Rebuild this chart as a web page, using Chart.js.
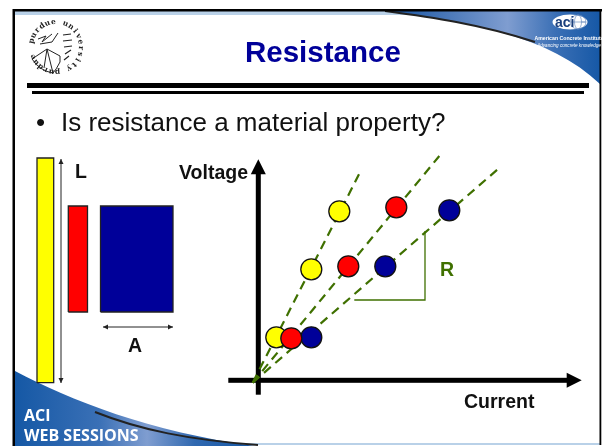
<!DOCTYPE html>
<html>
<head>
<meta charset="utf-8">
<title>Resistance</title>
<script src="https://cdn.jsdelivr.net/npm/chart.js@4/dist/chart.umd.min.js"></script>
<style>
html, body { margin: 0; padding: 0; background: #fff; }
canvas { display: block; }
</style>
</head>
<body>
<canvas id="myChart" width="604" height="446"></canvas>
<script>
var yellowCurrent = [81, 53, 18];
var yellowVoltage = [169, 111, 43];
var redCurrent = [138, 90, 33];
var redVoltage = [173, 114, 42];
var blueCurrent = [191, 127, 53];
var blueVoltage = [170, 114, 43];

// dashed fit lines: start and end of each
var yellowFitCurrent = [-5.6, 100.7];
var yellowFitVoltage = [-2.4, 206];
var redFitCurrent = [-5.6, 181];
var redFitVoltage = [-2.4, 224.3];
var blueFitCurrent = [-5.6, 239.4];
var blueFitVoltage = [-2.4, 211];

// slope triangle
var slopeCurrent = [96, 166.7, 166.7];
var slopeVoltage = [80.3, 80.3, 149.3];

// specimens left of the axes: [left, right] and [bottom, top]
var yellowBarX = [-221.3, -204.6];
var yellowBarY = [-2.4, 222.3];
var redBarX = [-190, -170.8];
var redBarY = [68.3, 174.3];
var blueBarX = [-157.8, -85.3];
var blueBarY = [68.3, 174.3];

function pts(xs, ys) {
    return xs.map(function (x, i) { return { x: x, y: ys[i] }; });
}
function box(xs, ys) {
    return pts([xs[0], xs[1], xs[1], xs[0], xs[0]], [ys[0], ys[0], ys[1], ys[1], ys[0]]);
}
function fitLine(xs, ys, order) {
    return { data: pts(xs, ys), showLine: true, pointRadius: 0, borderColor: '#3f7000', borderWidth: 2.2, borderDash: [9, 6], order: order };
}
function dots(xs, ys, color, order) {
    return { data: pts(xs, ys), showLine: false, pointRadius: 10.5, pointBorderWidth: 1.3, pointBorderColor: '#111', pointBackgroundColor: color, order: order };
}
function bar(xs, ys, color) {
    return { data: box(xs, ys), showLine: true, fill: 'shape', backgroundColor: color, borderColor: '#222', borderWidth: 1.3, pointRadius: 0, tension: 0, order: 9 };
}

function arrow(ctx, x, y, dx, dy, len, half) {
    ctx.beginPath();
    ctx.moveTo(x, y);
    ctx.lineTo(x - dx * len - dy * half, y - dy * len - dx * half);
    ctx.lineTo(x - dx * len + dy * half, y - dy * len + dx * half);
    ctx.closePath();
    ctx.fill();
}

function drawLogo(ctx) {
    var cx = 56, cy = 47, word = 'purdue university purdue';
    ctx.save();
    ctx.strokeStyle = '#222';
    ctx.fillStyle = '#222';
    ctx.font = 'bold 7.5px "DejaVu Serif"';
    ctx.textAlign = 'center';
    ctx.textBaseline = 'middle';
    for (var i = 0; i < word.length; i++) {
        var a = -2.9 + i * 0.245;
        ctx.save();
        ctx.translate(cx + Math.cos(a) * 25, cy + Math.sin(a) * 25);
        ctx.rotate(a + Math.PI / 2);
        ctx.fillText(word[i], 0, 0);
        ctx.restore();
    }
    ctx.lineWidth = 1;
    ctx.beginPath();
    ctx.moveTo(32, 59); ctx.lineTo(47, 49); ctx.lineTo(60, 56); ctx.lineTo(60, 62);
    ctx.quadraticCurveTo(56, 70, 53, 73); ctx.quadraticCurveTo(40, 71, 32, 59);
    ctx.moveTo(47, 49); ctx.lineTo(44, 68);
    ctx.moveTo(47, 49); ctx.lineTo(53, 73);
    ctx.moveTo(38, 39); ctx.lineTo(46, 36); ctx.lineTo(42, 42); ctx.lineTo(52, 34);
    ctx.moveTo(40, 44); ctx.lineTo(52, 42); ctx.lineTo(58, 33);
    ctx.stroke();
    ctx.lineWidth = 1.2;
    ctx.beginPath();
    ctx.moveTo(63, 35); ctx.lineTo(71, 34);
    ctx.moveTo(63, 41); ctx.lineTo(72, 40);
    ctx.moveTo(64, 47); ctx.lineTo(72, 46);
    ctx.moveTo(65, 54); ctx.lineTo(71, 50);
    ctx.moveTo(64, 60); ctx.lineTo(69, 56);
    ctx.stroke();
    ctx.restore();
}

var slidePlugin = {
    id: 'slide',
    beforeDatasetsDraw: function (chart) {
        var ctx = chart.ctx;
        var sx = chart.scales.x, sy = chart.scales.y;
        var ox = sx.getPixelForValue(0), oy = sy.getPixelForValue(0);
        ctx.save();
        ctx.fillStyle = '#fff';
        ctx.fillRect(0, 0, 604, 446);

        // pale band under the frame top and on the bottom edge
        ctx.fillStyle = '#b9d1e8';
        ctx.fillRect(15, 11, 400, 4);
        ctx.fillRect(230, 443, 370, 2);

        // top right swoosh
        var g = ctx.createLinearGradient(380, 0, 600, 0);
        g.addColorStop(0, '#0f4f9f');
        g.addColorStop(0.58, '#7f9dd0');
        g.addColorStop(0.8, '#3a6fb5');
        g.addColorStop(1, '#1658a6');
        ctx.fillStyle = g;
        ctx.beginPath();
        ctx.moveTo(385, 11);
        ctx.bezierCurveTo(470, 22, 550, 36, 600, 84);
        ctx.lineTo(600, 11);
        ctx.closePath();
        ctx.fill();
        ctx.strokeStyle = '#222';
        ctx.lineWidth = 2;
        ctx.beginPath();
        ctx.moveTo(385, 11);
        ctx.bezierCurveTo(430, 17, 480, 24, 535, 42);
        ctx.stroke();

        // bottom left swoosh
        g = ctx.createLinearGradient(15, 0, 255, 0);
        g.addColorStop(0, '#1558a5');
        g.addColorStop(0.35, '#3a70b6');
        g.addColorStop(0.55, '#7f9dd0');
        g.addColorStop(0.75, '#2f68b0');
        g.addColorStop(1, '#1658a6');
        ctx.fillStyle = g;
        ctx.beginPath();
        ctx.moveTo(15, 371);
        ctx.bezierCurveTo(70, 400, 150, 432, 255, 446);
        ctx.lineTo(15, 446);
        ctx.closePath();
        ctx.fill();
        ctx.strokeStyle = '#222';
        ctx.lineWidth = 2;
        ctx.beginPath();
        ctx.moveTo(95, 412);
        ctx.bezierCurveTo(140, 430, 190, 440, 258, 445);
        ctx.stroke();

        // frame
        ctx.fillStyle = '#000';
        ctx.fillRect(13, 9, 589, 2.5);
        ctx.fillRect(12.5, 9, 2.5, 437);
        ctx.fillRect(599.5, 9, 1.8, 436);

        // title rules
        ctx.fillRect(27, 83, 562, 5);
        ctx.fillRect(32, 91, 552, 3);

        drawLogo(ctx);

        // aci logo
        ctx.fillStyle = '#fff';
        ctx.beginPath();
        ctx.ellipse(570, 22, 17.5, 7.5, 0, 0, Math.PI * 2);
        ctx.fill();
        ctx.strokeStyle = '#6f8fc0';
        ctx.lineWidth = 0.7;
        ctx.beginPath();
        ctx.ellipse(578, 22, 8, 7, 0, 0, Math.PI * 2);
        ctx.ellipse(578, 22, 3.5, 7, 0, 0, Math.PI * 2);
        ctx.moveTo(570, 22); ctx.lineTo(586, 22);
        ctx.stroke();
        ctx.fillStyle = '#1a3f7c';
        ctx.font = 'bold 14px "Liberation Sans"';
        ctx.textAlign = 'left';
        ctx.textBaseline = 'alphabetic';
        ctx.fillText('aci', 555, 27);
        ctx.fillStyle = '#fff';
        ctx.textAlign = 'center';
        ctx.font = 'bold 5.2px "Liberation Sans"';
        ctx.fillText('American Concrete Institute', 569, 40);
        ctx.font = 'italic 4.6px "Liberation Sans"';
        ctx.fillText('Advancing concrete knowledge', 569, 47);

        // axes
        ctx.fillStyle = '#000';
        var xEnd = sx.getPixelForValue(323.4), yEnd = sy.getPixelForValue(221);
        ctx.fillRect(sx.getPixelForValue(-30), oy - 2.5, xEnd - 14 - sx.getPixelForValue(-30), 5);
        ctx.fillRect(ox - 2.5, yEnd + 13, 5, sy.getPixelForValue(-14.4) - yEnd - 13);
        arrow(ctx, xEnd, oy, 1, 0, 15, 7.5);
        arrow(ctx, ox, yEnd, 0, -1, 15, 7.5);
        ctx.restore();
    },
    afterDatasetsDraw: function (chart) {
        var ctx = chart.ctx;
        var sx = chart.scales.x, sy = chart.scales.y;
        ctx.save();

        // L and A dimension arrows
        var lx = sx.getPixelForValue(-197.3), ly0 = sy.getPixelForValue(-2.7), ly1 = sy.getPixelForValue(221.3);
        var ay = sy.getPixelForValue(53.3), ax0 = sx.getPixelForValue(-155.3), ax1 = sx.getPixelForValue(-85.3);
        ctx.strokeStyle = '#222';
        ctx.fillStyle = '#222';
        ctx.lineWidth = 1;
        ctx.beginPath();
        ctx.moveTo(lx, ly0); ctx.lineTo(lx, ly1);
        ctx.moveTo(ax0, ay); ctx.lineTo(ax1, ay);
        ctx.stroke();
        arrow(ctx, lx, ly1, 0, -1, 5, 2.5);
        arrow(ctx, lx, ly0, 0, 1, 5, 2.5);
        arrow(ctx, ax0, ay, -1, 0, 5, 2.5);
        arrow(ctx, ax1, ay, 1, 0, 5, 2.5);

        ctx.textBaseline = 'alphabetic';
        ctx.textAlign = 'left';
        ctx.fillStyle = '#000099';
        ctx.font = 'bold 29.5px "Liberation Sans"';
        ctx.fillText('Resistance', 245, 62);

        ctx.fillStyle = '#111';
        ctx.font = '26px "Liberation Sans"';
        ctx.fillText('•', 36, 131);
        ctx.fillText('Is resistance a material property?', 61, 131);

        ctx.font = 'bold 19.5px "Liberation Sans"';
        ctx.fillText('L', 75, 178);
        ctx.fillText('Voltage', 179, 179);
        ctx.fillText('A', 128, 352);
        ctx.fillText('Current', 464, 408);
        ctx.fillStyle = '#3f7000';
        ctx.fillText('R', 440, 276);

        ctx.fillStyle = '#fff';
        ctx.font = 'bold 16px "Open Sans"';
        ctx.fillText('ACI', 24, 421);
        ctx.fillText('WEB SESSIONS', 24, 441);
        ctx.restore();
    }
};

var chart = new Chart(document.getElementById('myChart'), {
    type: 'scatter',
    data: {
        datasets: [
            bar(yellowBarX, yellowBarY, '#ffff00'),
            bar(redBarX, redBarY, '#ff0000'),
            bar(blueBarX, blueBarY, '#000099'),
            fitLine(yellowFitCurrent, yellowFitVoltage, 8),
            fitLine(redFitCurrent, redFitVoltage, 8),
            fitLine(blueFitCurrent, blueFitVoltage, 8),
            { data: pts(slopeCurrent, slopeVoltage), showLine: true, pointRadius: 0, borderColor: '#3f7000', borderWidth: 1.3, order: 7 },
            dots(blueCurrent, blueVoltage, '#000099', 3),
            dots(yellowCurrent, yellowVoltage, '#ffff00', 2),
            dots(redCurrent, redVoltage, '#ff0000', 1)
        ]
    },
    options: {
        responsive: false,
        animation: false,
        layout: { padding: 0, autoPadding: false },
        plugins: { legend: { display: false }, tooltip: { enabled: false } },
        scales: {
            x: { type: 'linear', display: false, min: -258.3, max: 345.7 },
            y: { type: 'linear', display: false, min: -65.7, max: 380.3 }
        }
    },
    plugins: [slidePlugin]
});
</script>
</body>
</html>
